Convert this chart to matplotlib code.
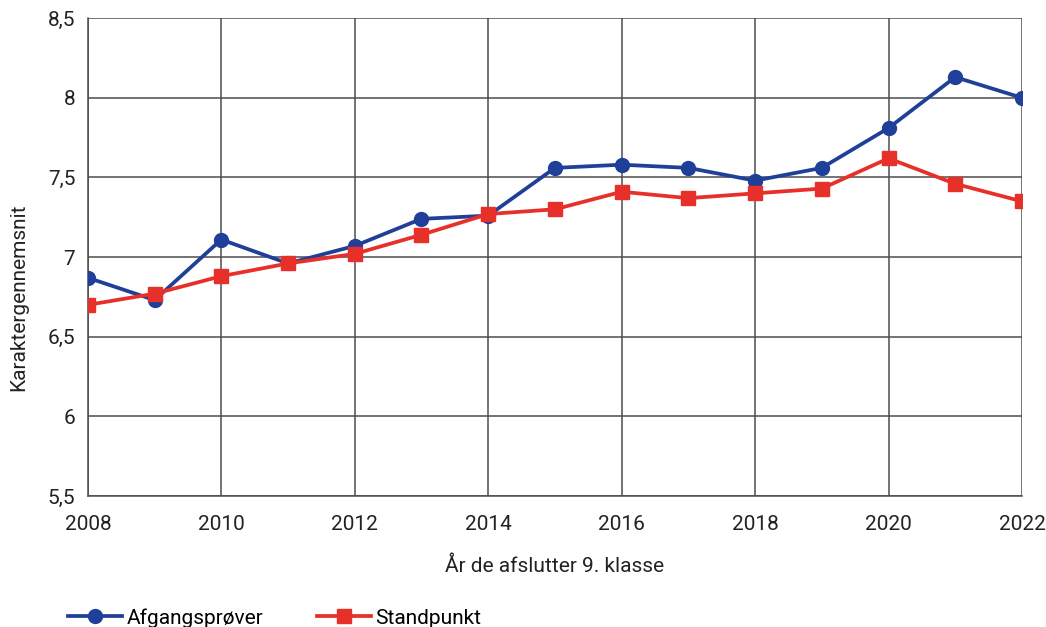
import matplotlib
matplotlib.use('Agg')
import matplotlib.pyplot as plt
import matplotlib.ticker as mticker

plt.rcParams['font.family'] = ['Roboto', 'DejaVu Sans']

# data
years = list(range(2008, 2023))
afgang = [6.87, 6.73, 7.11, 6.96, 7.07, 7.24, 7.26, 7.56, 7.58, 7.56, 7.48, 7.56, 7.81, 8.13, 8.00]
standpunkt = [6.70, 6.77, 6.88, 6.96, 7.02, 7.14, 7.27, 7.30, 7.41, 7.37, 7.40, 7.43, 7.62, 7.46, 7.35]
xticks = [2008, 2010, 2012, 2014, 2016, 2018, 2020, 2022]
yticks = [5.5, 6, 6.5, 7, 7.5, 8, 8.5]

blue = '#1f3f99'
red = '#e8302a'
txt = '#222222'
fs = 15

fig = plt.figure(figsize=(10.46, 6.27), dpi=100)
ax = fig.add_axes([0.084, 0.209, 0.893, 0.762])

ax.plot(years, afgang, color=blue, lw=2.7, marker='o', ms=10, label='Afgangsprøver', zorder=3)
ax.plot(years, standpunkt, color=red, lw=2.7, marker='s', ms=10, label='Standpunkt', zorder=4)

ax.set_xlim(2008, 2022)
ax.set_ylim(5.5, 8.5)
ax.set_xticks(xticks)
ax.set_yticks(yticks)
ax.xaxis.set_minor_locator(mticker.MultipleLocator(2))
ax.yaxis.set_major_formatter(mticker.FuncFormatter(lambda v, p: ('%g' % v).replace('.', ',')))
ax.grid(True, color='#4d4d4d', lw=1.1)
ax.tick_params(length=0, labelsize=fs, colors=txt)
ax.tick_params(axis='x', pad=14)
ax.tick_params(axis='y', pad=9)
for s in ['top', 'right']:
    ax.spines[s].set_visible(False)
for s in ['left', 'bottom']:
    ax.spines[s].set_color('#4d4d4d')
    ax.spines[s].set_linewidth(1.1)

ax.set_xlabel('År de afslutter 9. klasse', fontsize=fs, color=txt, labelpad=16)
ax.set_ylabel('Karaktergennemsnit', fontsize=fs, color=txt)
ax.yaxis.set_label_coords(-0.064, 0.416)

fig.legend(loc='center left', bbox_to_anchor=(68 / 1046, 1 - 618 / 627), ncol=2, frameon=False,
           fontsize=fs, handlelength=2.6, columnspacing=2.6, handletextpad=0.2,
           borderpad=0, borderaxespad=0)

fig.savefig('out.png', dpi=100)
